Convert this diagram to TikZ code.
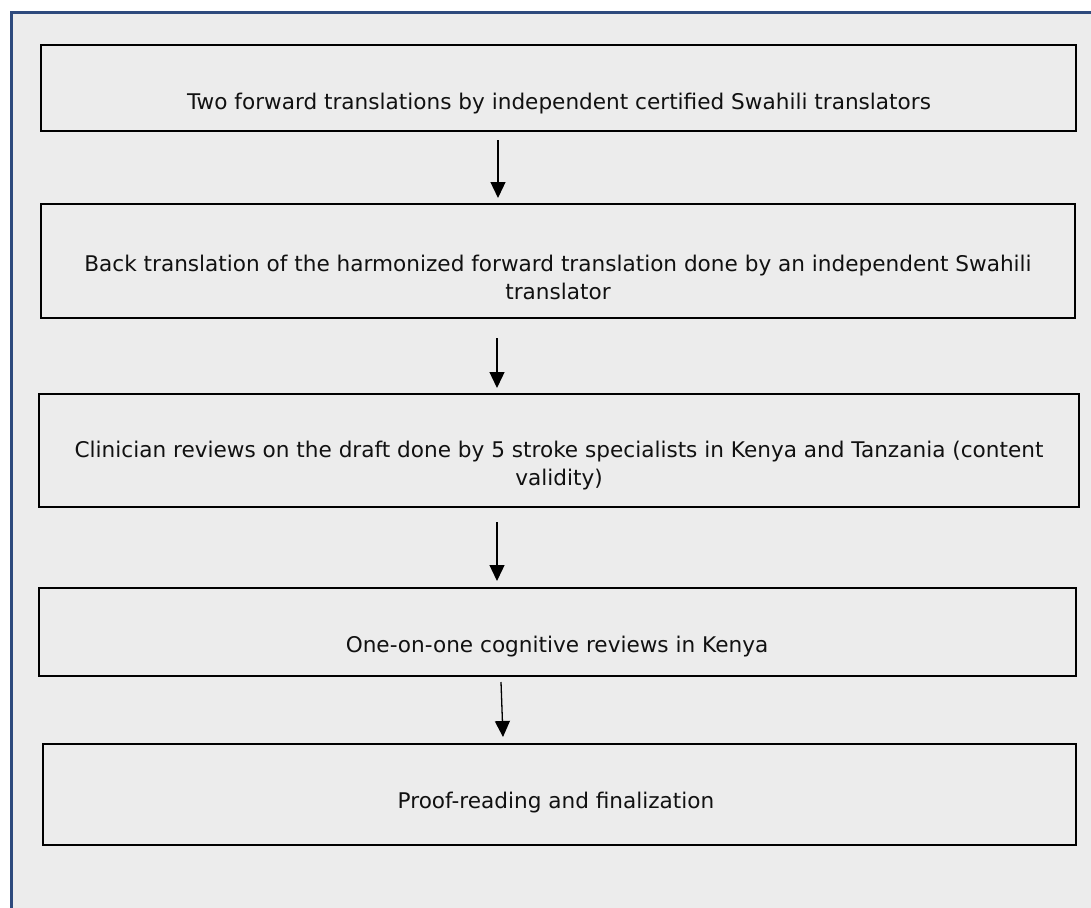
\documentclass[tikz,border=0pt]{standalone}
\usepackage{fontspec}
\setmainfont{DejaVu Sans}
\usetikzlibrary{arrows.meta}
\definecolor{frameblue}{HTML}{2E4A7D}
\definecolor{bggray}{HTML}{ECECEC}
\definecolor{txtcol}{HTML}{111111}
\tikzset{
  stepbox/.style={draw=black, line width=2.6pt, rectangle, inner sep=0pt},
  txt/.style={inner sep=0pt, align=center, text=txtcol, font=\fontsize{21.6}{28}\selectfont},
  arr/.style={draw=black, line width=1.3pt, -{Triangle[width=15pt,length=16pt]}}
}
\begin{document}
\begin{tikzpicture}[x=1pt,y=-1pt]
\useasboundingbox (0,0) rectangle (1091,907);
\clip (0,0) rectangle (1091,907);
\fill[white] (0,0) rectangle (1091,907);
\draw[frameblue, line width=3pt, fill=bggray] (11,13) rectangle (1110,930);
% boxes
\node[stepbox, minimum width=1035pt, minimum height=86pt] (b1) at (558.5,88) {};
\node[stepbox, minimum width=1034pt, minimum height=114pt] (b2) at (558,261) {};
\node[stepbox, minimum width=1040pt, minimum height=113pt] (b3) at (559,450.5) {};
\node[stepbox, minimum width=1037pt, minimum height=88pt] (b4) at (557.5,632) {};
\node[stepbox, minimum width=1033pt, minimum height=101pt] (b5) at (559.5,794.5) {};
% texts
\node[txt] (t1) at (559,104) {Two forward translations by independent certified Swahili translators};
\node[txt] (t2) at (558,277) {Back translation of the harmonized forward translation done by an independent Swahili\\translator};
\node[txt] (t3) at (559,466) {Clinician reviews on the draft done by 5 stroke specialists in Kenya and Tanzania (content\\validity)};
\node[txt] (t4) at (557,647) {One-on-one cognitive reviews in Kenya};
\node[txt] (t5) at (556,803) {Proof-reading and finalization};
% arrows
\coordinate (a1s) at (498,140); \coordinate (a1e) at (498,198);
\coordinate (a2s) at (497,338); \coordinate (a2e) at (497,388);
\coordinate (a3s) at (497,522); \coordinate (a3e) at (497,581);
\coordinate (a4s) at (501,682); \coordinate (a4e) at (503,737);
\draw[arr] (a1s) -- (a1e);
\draw[arr] (a2s) -- (a2e);
\draw[arr] (a3s) -- (a3e);
\draw[arr] (a4s) -- (a4e);
\end{tikzpicture}
\end{document}
